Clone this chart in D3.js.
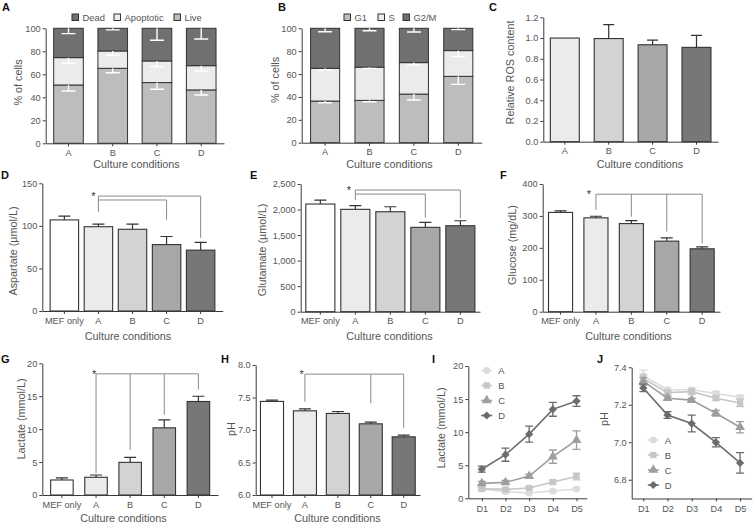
<!DOCTYPE html>
<html><head><meta charset="utf-8">
<script src="https://cdn.jsdelivr.net/npm/d3@7"></script>
<style>body{margin:0;background:#fff}svg{display:block}text{font-family:'Liberation Sans',Arial,Helvetica,sans-serif}</style>
</head><body>
<script>
// ---------- DATA ----------
const catsABCD = ["A","B","C","D"];
const catsMEF = ["MEF only","A","B","C","D"];
const days = ["D1","D2","D3","D4","D5"];

// Panel A: viability (% of cells), stacked bottom->top
const viabKeys = ["Live","Apoptotic","Dead"];
const viabLegend = ["Dead","Apoptotic","Live"];
const viabLive = [50.7,65.2,52.8,46.4];
const viabApoptotic = [23.8,15.1,18.8,21.1];
const viabDead = [25.5,19.7,28.4,32.5];
const viabLiveErr = [5.2,3.8,5.8,4.4];
const viabApoptoticErr = [4.9,3.5,4.9,4.6];
const viabDeadErr = [4.6,1.4,10.4,9.3];

// Panel B: cell cycle (% of cells), stacked bottom->top
const cycleKeys = ["G1","S","G2/M"];
const cycleLegend = ["G1","S","G2/M"];
const cycleG1 = [36.4,37,42.5,58];
const cycleS = [28.6,29,27.5,22.5];
const cycleG2M = [35,34,30,19.5];
const cycleG1Err = [1.5,1.2,5.2,7];
const cycleSErr = [1.5,1,2.1,5.3];
const cycleG2MErr = [3,2.1,3.2,1.2];

// Panel C: relative ROS
const rosVals = [1.0,0.995,0.935,0.91];
const rosErr = [0,0.135,0.045,0.115];

// Panel D: aspartate
const aspVals = [107,99,96,78,71.5];
const aspErr = [4.5,3,6,9.5,9];
const aspSigLines = [["A","D",135],["A","C",130.4]];
const aspSigDrops = [["A",135,116.5],["C",130.4,107],["D",135,86]];

// Panel E: glutamate
const gluVals = [2108,2004,1957,1652,1683];
const gluErr = [78,71,98,98,98];
const gluSigLines = [["A","D",2382],["A","C",2303]];
const gluSigDrops = [["A",2382,2186],["C",2303,1840],["D",2382,1830]];

// Panel F: glucose
const glcVals = [311,294,276,221,197];
const glcErr = [5,5,9,10,6];
const glcSigLines = [["A","D",368]];
const glcSigDrops = [["A",368,319],["B",368,298],["C",368,251],["D",368,214]];

// Panel G: lactate
const lacVals = [2.28,2.69,4.96,10.2,14.2];
const lacErr = [0.32,0.35,0.74,1.2,0.8];
const lacSigLines = [["A","D",18.4]];
const lacSigDrops = [["A",18.4,3.3],["B",18.4,6.84],["C",18.4,12.2],["D",18.4,16.0]];

// Panel H: pH
const phVals = [7.44,7.295,7.255,7.095,6.895];
const phErr = [0.02,0.03,0.03,0.025,0.025];
const phSigLines = [["A","D",7.86]];
const phSigDrops = [["A",7.86,7.435],["C",7.86,7.41],["D",7.86,7.03]];

// Panel I: lactate time course
const lineSeries = ["A","B","C","D"];
const lacTimeA = [1.4,1.0,0.8,1.1,1.4];
const lacTimeB = [1.45,1.35,1.55,2.45,3.3];
const lacTimeC = [2.25,2.4,3.35,6.3,8.8];
const lacTimeD = [4.4,6.6,9.7,13.45,14.7];
const lacTimeErrA = [0.2,0.2,0.1,0.15,0.2];
const lacTimeErrB = [0.2,0.2,0.2,0.3,0.5];
const lacTimeErrC = [0.3,0.3,0.3,1.0,1.4];
const lacTimeErrD = [0.45,1.0,1.2,1.05,0.8];

// Panel J: pH time course
const phTimeA = [7.355,7.28,7.28,7.26,7.24];
const phTimeB = [7.34,7.265,7.27,7.235,7.21];
const phTimeC = [7.325,7.235,7.225,7.155,7.08];
const phTimeD = [7.29,7.145,7.10,7.0,6.89];
const phTimeErrA = [0.03,0.01,0.01,0.01,0.01];
const phTimeErrB = [0.02,0.01,0.015,0.01,0.02];
const phTimeErrC = [0.02,0.01,0.01,0.015,0.03];
const phTimeErrD = [0.02,0.018,0.045,0.025,0.055];

// ---------- STYLE ----------
const AX = "#3a3a3a", TXT = "#555", BAR_STROKE = "#333", SIG = "#8a8a8a";
const barColors5 = ["#ffffff","#ebebeb","#d3d3d3","#a7a7a7","#777777"];
const barColors4 = ["#ebebeb","#d3d3d3","#a7a7a7","#777777"];
const stackColorsA = ["#bdbdbd","#ebebeb","#707070"]; // Live, Apoptotic, Dead
const stackColorsB = ["#bdbdbd","#ebebeb","#707070"]; // G1, S, G2/M
const lineColors = ["#dcdcdc","#c6c6c6","#9e9e9e","#6c6c6c"];
const TICK_FS = "9.2px", TITLE_FS = "10.8px";

const svg = d3.select("body").append("svg").attr("width",754).attr("height",524);

function styleAxis(g){
  g.attr("font-family",null).attr("font-size",null);
  g.select(".domain").attr("stroke",AX).attr("stroke-width",1);
  g.selectAll(".tick line").attr("stroke",AX);
  g.selectAll(".tick text").attr("fill",TXT).style("font-size",TICK_FS);
}
function yTitle(text,x,y){
  svg.append("text").attr("transform",`translate(${x},${y}) rotate(-90)`)
    .attr("text-anchor","middle").attr("dominant-baseline","middle")
    .attr("fill",TXT).style("font-size",TITLE_FS).text(text);
}
function xTitle(text,x,y){
  svg.append("text").attr("x",x).attr("y",y).attr("text-anchor","middle")
    .attr("fill",TXT).style("font-size",TITLE_FS).text(text);
}
function panelLetter(t,x,y){
  svg.append("text").attr("x",x).attr("y",y).attr("font-weight","bold")
    .attr("fill","#111").style("font-size","11px").text(t);
}
function drawAxes(g,x,y,o){
  g.append("g").attr("transform",`translate(0,${o.yb})`)
    .call(d3.axisBottom(x).tickSize(3).tickSizeOuter(0).tickPadding(3)).call(styleAxis);
  g.append("g").attr("transform",`translate(${o.x0},0)`)
    .call(d3.axisLeft(y).tickValues(o.ticks).tickFormat(o.fmt||(d=>d)).tickSize(3).tickSizeOuter(0).tickPadding(2))
    .call(styleAxis);
}

// ---------- STACKED PANELS ----------
function stackPanel(o){
  const g = svg.append("g");
  const x = d3.scaleBand().domain(o.cats).range([o.x0,o.x1]).paddingInner(o.pi).paddingOuter(o.po);
  const y = d3.scaleLinear().domain([0,100]).range([o.yb,o.yt]);
  const rows = o.cats.map((c,i)=>{const r={cat:c}; o.keys.forEach((k,j)=>{r[k]=o.vals[j][i];}); return r;});
  const series = d3.stack().keys(o.keys)(rows);
  series.forEach((s,j)=>{
    g.selectAll(null).data(s).join("rect")
      .attr("x",d=>x(d.data.cat)).attr("width",x.bandwidth())
      .attr("y",d=>y(d[1])).attr("height",d=>y(d[0])-y(d[1]))
      .attr("fill",o.colors[j]).attr("stroke",BAR_STROKE).attr("stroke-width",1);
  });
  series.forEach((s,j)=>{
    g.selectAll(null).data(s).join("path")
      .attr("d",(d,i)=>{const cx=x(d.data.cat)+x.bandwidth()/2, yt=y(d[1]), ye=y(d[1]-o.errs[j][i]);
        return `M${cx},${yt}V${ye}M${cx-7},${ye}H${cx+7}`;})
      .attr("stroke","#fff").attr("stroke-width",1.4).attr("fill","none");
  });
  drawAxes(g,x,y,o);
  // legend
  o.legend.forEach((name,i)=>{
    const k = o.keys.indexOf(name);
    g.append("rect").attr("x",o.legX[i]).attr("y",o.legY-6.5).attr("width",6.5).attr("height",6.5)
      .attr("fill",o.colors[k]).attr("stroke",BAR_STROKE).attr("stroke-width",1);
    g.append("text").attr("x",o.legX[i]+10.5).attr("y",o.legY).attr("fill",TXT).style("font-size","9.4px").text(name);
  });
}

// ---------- SIMPLE BAR PANELS ----------
function barPanel(o){
  const g = svg.append("g");
  const x = d3.scaleBand().domain(o.cats).range([o.x0,o.x1]).paddingInner(o.pi).paddingOuter(o.po);
  const y = d3.scaleLinear().domain(o.yDomain).range([o.yb,o.yt]);
  const cx = c => x(c)+x.bandwidth()/2;
  const base = y(o.yDomain[0]);
  g.selectAll(null).data(o.vals).join("path")
    .attr("d",(d,i)=>{ if(!o.errs[i]) return null; const c=cx(o.cats[i]), ye=y(d+o.errs[i]);
      return `M${c},${y(d)}V${ye}M${c-o.cap},${ye}H${c+o.cap}`;})
    .attr("stroke",BAR_STROKE).attr("stroke-width",1.2).attr("fill","none");
  g.selectAll(null).data(o.vals).join("rect")
    .attr("x",(d,i)=>x(o.cats[i])).attr("width",x.bandwidth())
    .attr("y",d=>y(d)).attr("height",d=>base-y(d))
    .attr("fill",(d,i)=>o.colors[i]).attr("stroke",BAR_STROKE).attr("stroke-width",1.1);
  if(o.sigLines){
    const sg = g.append("g").attr("stroke",SIG).attr("stroke-width",1).attr("fill","none");
    o.sigLines.forEach(l=>sg.append("line").attr("x1",cx(l[0])).attr("x2",cx(l[1])).attr("y1",y(l[2])).attr("y2",y(l[2])));
    o.sigDrops.forEach(dp=>sg.append("line").attr("x1",cx(dp[0])).attr("x2",cx(dp[0])).attr("y1",y(dp[1])).attr("y2",y(dp[2])));
    const top = d3.max(o.sigLines,l=>l[2]);
    g.append("text").attr("x",cx(o.sigLines[0][0])+o.starDx).attr("y",y(top)+4)
      .attr("text-anchor","middle").attr("fill","#333").style("font-size","11px").text("*");
  }
  drawAxes(g,x,y,o);
}

// ---------- LINE PANELS ----------
const symbols = [d3.symbolCircle,d3.symbolSquare,d3.symbolTriangle,d3.symbolSquare];
const symSize = [38,40,42,34];
const symRot = [0,0,0,45];
function linePanel(o){
  const g = svg.append("g");
  const x = d3.scalePoint().domain(days).range([o.x0,o.x1]).padding(o.pad).align(o.align);
  const y = d3.scaleLinear().domain(o.yDomain).range([o.yb,o.yt]);
  g.append("g").attr("transform",`translate(0,${o.yb})`)
    .call(d3.axisBottom(x).tickSize(3).tickSizeOuter(0).tickPadding(4)).call(styleAxis);
  g.append("g").attr("transform",`translate(${o.x0},0)`)
    .call(d3.axisLeft(y).tickValues(o.ticks).tickFormat(o.fmt||(d=>d)).tickSize(3).tickSizeOuter(0).tickPadding(2))
    .call(styleAxis);
  const line = d3.line().x((d,i)=>x(days[i])).y(d=>y(d));
  o.series.forEach((vals,k)=>{
    const col = lineColors[k], errs = o.errs[k];
    g.append("path").datum(vals).attr("d",line).attr("fill","none").attr("stroke",col).attr("stroke-width",1.6);
    g.selectAll(null).data(vals).join("path")
      .attr("d",(d,i)=>{const c=x(days[i]),a=y(d+errs[i]),b=y(d-errs[i]);return `M${c},${a}V${b}M${c-4},${a}H${c+4}M${c-4},${b}H${c+4}`;})
      .attr("stroke",col).attr("stroke-width",1.3).attr("fill","none");
    g.selectAll(null).data(vals).join("path")
      .attr("transform",(d,i)=>`translate(${x(days[i])},${y(d)}) rotate(${symRot[k]})`)
      .attr("d",d3.symbol().type(symbols[k]).size(symSize[k])).attr("fill",col);
  });
  lineSeries.forEach((name,k)=>{
    const ly = o.legY0 + k*o.legDy;
    g.append("line").attr("x1",o.legX-5.5).attr("x2",o.legX+5.5).attr("y1",ly).attr("y2",ly).attr("stroke",lineColors[k]).attr("stroke-width",1.6);
    g.append("path").attr("transform",`translate(${o.legX},${ly}) rotate(${symRot[k]})`)
      .attr("d",d3.symbol().type(symbols[k]).size(symSize[k])).attr("fill",lineColors[k]);
    g.append("text").attr("x",o.legX+11.5).attr("y",ly).attr("dominant-baseline","central")
      .attr("fill",TXT).style("font-size","9.4px").text(name);
  });
}

// ---------- DRAW ----------
const pctTicks = [0,20,40,60,80,100];
stackPanel({cats:catsABCD,x0:45.7,x1:224,yb:143.3,yt:28.3,pi:0.33,po:0.18,ticks:pctTicks,
  keys:viabKeys,vals:[viabLive,viabApoptotic,viabDead],errs:[viabLiveErr,viabApoptoticErr,viabDeadErr],
  colors:stackColorsA,legend:viabLegend,legX:[72,114,174],legY:20.5});
yTitle("% of cells",19.5,82.5); xTitle("Culture conditions",136.5,168); panelLetter("A",2,11);

stackPanel({cats:catsABCD,x0:301.7,x1:481.7,yb:142.7,yt:28.3,pi:0.345,po:0.2,ticks:pctTicks,
  keys:cycleKeys,vals:[cycleG1,cycleS,cycleG2M],errs:[cycleG1Err,cycleSErr,cycleG2MErr],
  colors:stackColorsB,legend:cycleLegend,legX:[344,378,403],legY:20.5});
yTitle("% of cells",276.5,80); xTitle("Culture conditions",389.5,168); panelLetter("B",278,11);

barPanel({cats:catsABCD,x0:543.3,x1:718,yb:141.7,yt:17.3,pi:0.34,po:0.16,yDomain:[0,1.2],
  ticks:[0,0.2,0.4,0.6,0.8,1.0,1.2],fmt:d3.format(".1f"),vals:rosVals,errs:rosErr,colors:barColors4,cap:5.5});
yTitle("Relative ROS content",511.5,72.5); xTitle("Culture conditions",640,168); panelLetter("C",489,11);

barPanel({cats:catsMEF,x0:42.3,x1:222.7,yb:311,yt:183.3,pi:0.165,po:0.23,yDomain:[0,150],
  ticks:[0,50,100,150],vals:aspVals,errs:aspErr,colors:barColors5,cap:6,
  sigLines:aspSigLines,sigDrops:aspSigDrops,starDx:-5});
yTitle("Aspartate (\u00b5mol/L)",14,251); xTitle("Culture conditions",128,339.5); panelLetter("D",1,178.5);

barPanel({cats:catsMEF,x0:300.7,x1:480,yb:311.7,yt:184,pi:0.17,po:0.146,yDomain:[0,2500],
  ticks:[0,500,1000,1500,2000,2500],fmt:d3.format(","),vals:gluVals,errs:gluErr,colors:barColors5,cap:6,
  sigLines:gluSigLines,sigDrops:gluSigDrops,starDx:-6.5});
yTitle("Glutamate (\u00b5mol/L)",263,250); xTitle("Culture conditions",389.5,339.5); panelLetter("E",250,178.5);

barPanel({cats:catsMEF,x0:542.7,x1:720,yb:311.7,yt:184,pi:0.32,po:0.164,yDomain:[0,400],
  ticks:[0,100,200,300,400],vals:glcVals,errs:glcErr,colors:barColors5,cap:6,
  sigLines:glcSigLines,sigDrops:glcSigDrops,starDx:-7});
yTitle("Glucose (mg/dL)",513,245); xTitle("Culture conditions",628.5,339.5); panelLetter("F",500,178.5);

barPanel({cats:catsMEF,x0:42.3,x1:218,yb:495,yt:363.3,pi:0.34,po:0.245,yDomain:[0,20],
  ticks:[0,5,10,15,20],vals:lacVals,errs:lacErr,colors:barColors5,cap:6,
  sigLines:lacSigLines,sigDrops:lacSigDrops,starDx:-2});
yTitle("Lactate (mmol/L)",22.5,419); xTitle("Culture conditions",123.5,522); panelLetter("G",1,363);

barPanel({cats:catsMEF,x0:255.7,x1:420,yb:495,yt:365,pi:0.3,po:0.145,yDomain:[6,8],
  ticks:[6,6.5,7,7.5,8],fmt:d3.format(".1f"),vals:phVals,errs:phErr,colors:barColors5,cap:6,
  sigLines:phSigLines,sigDrops:phSigDrops,starDx:-3.3});
yTitle("pH",232,429); xTitle("Culture conditions",337.5,522); panelLetter("H",221,363);

linePanel({x0:468.3,x1:586.7,yb:498.3,yt:366,pad:0.5,align:0.57,yDomain:[0,20],ticks:[0,5,10,15,20],
  series:[lacTimeA,lacTimeB,lacTimeC,lacTimeD],errs:[lacTimeErrA,lacTimeErrB,lacTimeErrC,lacTimeErrD],
  legX:486.7,legY0:370.5,legDy:15});
yTitle("Lactate (mmol/L)",442.5,428); panelLetter("I",432,363);

linePanel({x0:631.7,x1:751.7,yb:498.5,yt:367.3,pad:0.48,align:0.5,yDomain:[6.7,7.4],ticks:[6.8,7.0,7.2,7.4],
  fmt:d3.format(".1f"),
  series:[phTimeA,phTimeB,phTimeC,phTimeD],errs:[phTimeErrA,phTimeErrB,phTimeErrC,phTimeErrD],
  legX:653.3,legY0:440,legDy:15});
yTitle("pH",605,419); panelLetter("J",597,363);
</script></body></html>
